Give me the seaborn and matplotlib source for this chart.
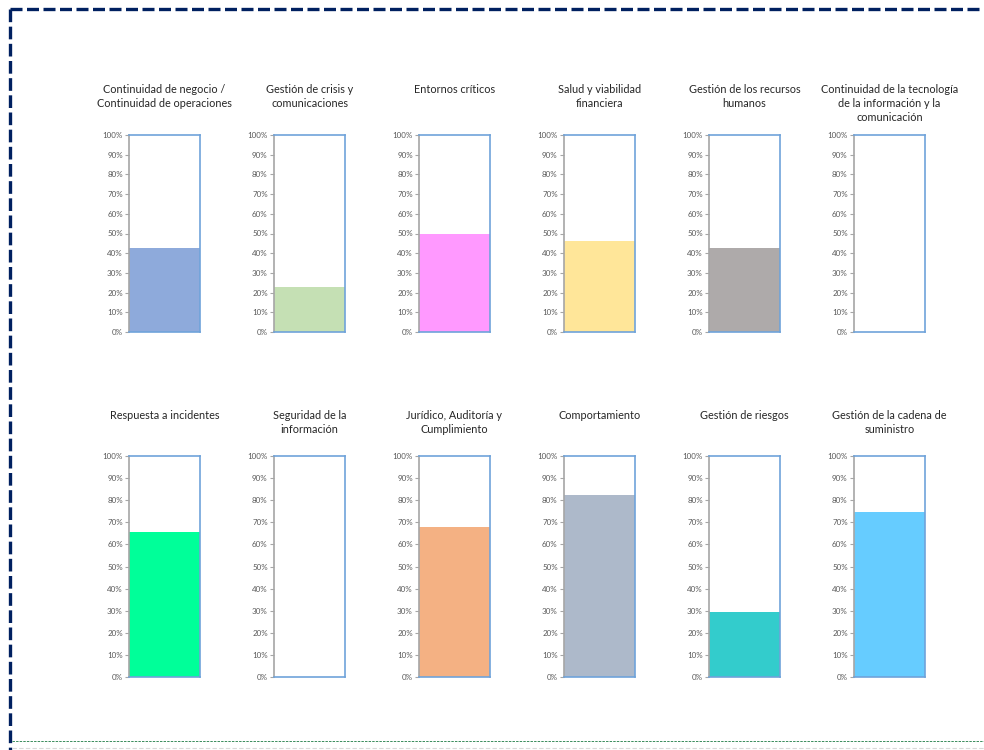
import numpy as np
import pandas as pd
import matplotlib
matplotlib.use("Agg")
import matplotlib.pyplot as plt
from matplotlib.lines import Line2D
from matplotlib.ticker import PercentFormatter
import seaborn as sns

categories = [
    "Continuidad de negocio /\nContinuidad de operaciones",
    "Gestión de crisis y\ncomunicaciones",
    "Entornos críticos",
    "Salud y viabilidad\nfinanciera",
    "Gestión de los recursos\nhumanos",
    "Continuidad de la tecnología\nde la información y la\ncomunicación",
    "Respuesta a incidentes",
    "Seguridad de la\ninformación",
    "Jurídico, Auditoría y\nCumplimiento",
    "Comportamiento",
    "Gestión de riesgos",
    "Gestión de la cadena de\nsuministro",
]
values = [0.425, 0.23, 0.50, 0.463, 0.425, 0.0, 0.656, 0.0, 0.677, 0.823, 0.293, 0.748]
colors = ["#8EAADB", "#C5E0B4", "#FF99FF", "#FFE699", "#AEAAAA", "#5B9BD5",
          "#00FF99", "#5B9BD5", "#F4B183", "#ADB9CA", "#33CCCC", "#66CCFF"]
ticks = [0, 0.1, 0.2, 0.3, 0.4, 0.5, 0.6, 0.7, 0.8, 0.9, 1.0]

sns.set_style("white")
plt.rcParams["font.family"] = ["Lato", "DejaVu Sans"]

W, H = 984, 750
fig = plt.figure(figsize=(W / 100, H / 100), dpi=100)
fig.patch.set_facecolor("white")

rows = [(135, 332, 84), (456, 677, 410)]
for i, (cat, val, col) in enumerate(zip(categories, values, colors)):
    r, c = divmod(i, 6)
    top, bot, ttop = rows[r]
    left = 129 + 145 * c
    ax = fig.add_axes([left / W, 1 - bot / H, 71 / W, (bot - top) / H])
    df = pd.DataFrame({"cat": [cat], "val": [val]})
    sns.barplot(data=df, x="cat", y="val", color=col, width=1.0, ax=ax,
                saturation=1, edgecolor="none", linewidth=0)
    ax.set_xlim(-0.5, 0.5)
    ax.set_ylim(0, 1)
    ax.set_yticks(ticks)
    ax.yaxis.set_major_formatter(PercentFormatter(1.0, decimals=0))
    ax.set_xticks([])
    ax.set_xlabel("")
    ax.set_ylabel("")
    for s in ["top", "right", "bottom"]:
        ax.spines[s].set_visible(True)
        ax.spines[s].set_color("#6FA3DA")
        ax.spines[s].set_linewidth(1.2)
    ax.spines["left"].set_color("#A6A6A6")
    ax.spines["left"].set_linewidth(1.2)
    ax.tick_params(axis="y", left=True, length=3, width=0.8, color="#A6A6A6",
                   pad=1.5, labelsize=5.8, labelcolor="#595959")
    fig.text((left + 35.5) / W, 1 - ttop / H, cat, ha="center", va="top",
             fontsize=7.8, color="#262626", linespacing=1.35)

# page border decorations
navy = "#002060"
fig.add_artist(Line2D([10 / W, 1], [1 - 9 / H, 1 - 9 / H], color=navy, lw=2.4,
                      dashes=(3.6, 1.35), transform=fig.transFigure))
fig.add_artist(Line2D([10 / W, 10 / W], [1 - 9 / H, 0], color=navy, lw=2.4,
                      dashes=(3.8, 1.35), transform=fig.transFigure))
fig.add_artist(Line2D([12 / W, 1], [1 - 741 / H, 1 - 741 / H], color="#3A8C5C",
                      lw=0.7, dashes=(2.5, 1.2), transform=fig.transFigure))
fig.add_artist(Line2D([12 / W, 1], [1 - 748 / H, 1 - 748 / H], color="#D9D9D9",
                      lw=0.8, dashes=(4, 2), transform=fig.transFigure))

fig.savefig("out.png", dpi=100)
